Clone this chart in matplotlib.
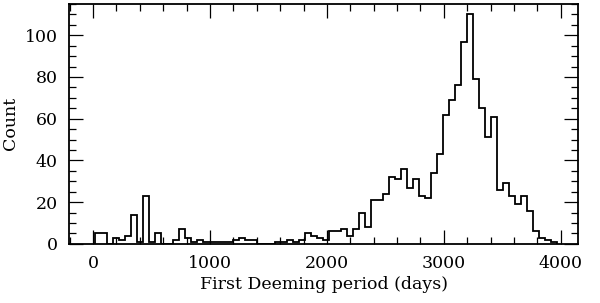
import matplotlib
matplotlib.use("Agg")
import matplotlib.pyplot as plt
import numpy as np
from matplotlib.ticker import MultipleLocator

# ==========================
# Histogram data
# ==========================
bin_start = 15      # days
bin_width = 51.3    # days
counts = [5, 5, 0, 3, 2, 4, 14, 1, 23, 1,
          5, 0, 0, 2, 7, 3, 1, 2, 1, 1,
          1, 1, 1, 2, 3, 2, 2, 0, 0, 0,
          1, 1, 2, 1, 2, 5, 4, 3, 2, 6,
          6, 7, 4, 7, 15, 8, 21, 21, 24, 32,
          31, 36, 27, 31, 23, 22, 34, 43, 62, 69,
          76, 97, 110, 79, 65, 51, 61, 26, 29, 23,
          19, 23, 16, 6, 3, 2, 1]
edges = bin_start + bin_width * np.arange(len(counts) + 1)

x_label = "First Deeming period (days)"
y_label = "Count"

# ==========================
# Plot
# ==========================
plt.rcParams['font.family'] = ['DejaVu Serif']

fig = plt.figure(figsize=(6, 3.03), dpi=100)
ax = fig.add_axes([0.115, 0.195, 0.849, 0.792])

ax.stairs(counts, edges, color='black', linewidth=1.3)

ax.set_xlim(-205, 4150)
ax.set_ylim(0, 115)

ax.xaxis.set_major_locator(MultipleLocator(1000))
ax.xaxis.set_minor_locator(MultipleLocator(200))
ax.yaxis.set_major_locator(MultipleLocator(20))
ax.yaxis.set_minor_locator(MultipleLocator(5))

ax.tick_params(which='both', direction='in', top=True, right=True,
               labelsize=12.5, width=0.9, pad=8)
ax.tick_params(which='major', length=10)
ax.tick_params(which='minor', length=5)

for s in ax.spines.values():
    s.set_linewidth(1.3)

ax.set_xlabel(x_label, fontsize=12.5, labelpad=3)
ax.set_ylabel(y_label, fontsize=12.5, va='center')
ax.yaxis.set_label_coords(-0.114, 0.5)

fig.savefig("out.png", dpi=100)
